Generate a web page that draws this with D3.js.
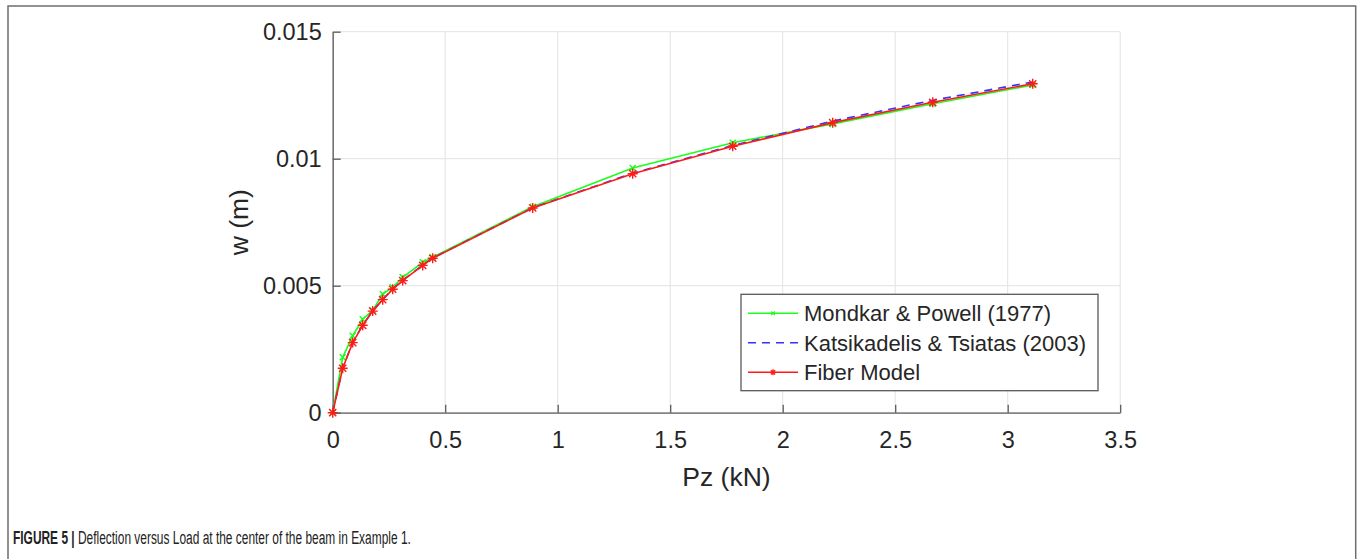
<!DOCTYPE html>
<html>
<head>
<meta charset="utf-8">
<script src="https://cdn.jsdelivr.net/npm/d3@7"></script>
<style>
    body { margin: 0; background: #fff; }
    svg text { font-family: "Liberation Sans", Arial, sans-serif; fill: #262626; }
</style>
</head>
<body>
<svg id="chart" width="1363" height="559"></svg>
<script>
// Load steps (kN)
const loadPz = [0, 0.0444, 0.0889, 0.1333, 0.1778, 0.2222, 0.2667, 0.3111, 0.4, 0.4444,
                0.8889, 1.3333, 1.7778, 2.2222, 2.6667, 3.1111];

// Deflection w (m) for each series
const mondkarW = [0, 0.00218, 0.00303, 0.00368, 0.00403, 0.00467, 0.00494, 0.00533, 0.00592, 0.00612,
                  0.00811, 0.00963, 0.01063, 0.01137, 0.01216, 0.01290];
const katsikadelisW = [0, 0.00176, 0.00277, 0.00345, 0.00401, 0.00446, 0.00487, 0.00521, 0.00581, 0.00609,
                       0.00807, 0.00943, 0.01052, 0.01148, 0.01230, 0.01302];
const fiberW = [0, 0.00175, 0.00276, 0.00344, 0.00400, 0.00445, 0.00486, 0.00520, 0.00580, 0.00608,
                0.00806, 0.00941, 0.01049, 0.01142, 0.01222, 0.01295];

const seriesNames = ["Mondkar & Powell (1977)", "Katsikadelis & Tsiatas (2003)", "Fiber Model"];

// Tick labels
const xTicks = [0, 0.5, 1, 1.5, 2, 2.5, 3, 3.5];
const yTicks = [0, 0.005, 0.01, 0.015];

// Plot area
const plotLeft = 332.7, plotRight = 1120.2, plotTop = 31.7, plotBottom = 412.7;

const svg = d3.select("#chart");

// Figure frame (open at the bottom)
svg.append("path")
    .attr("d", "M8,559 V6 H1355.7 V559")
    .attr("fill", "none")
    .attr("stroke", "#6e6e6e")
    .attr("stroke-width", 1.5);

const xScale = d3.scaleLinear().domain([0, 3.5]).range([plotLeft, plotRight]);
const yScale = d3.scaleLinear().domain([0, 0.015]).range([plotBottom, plotTop]);

// Grid
const grid = svg.append("g").attr("class", "grid");
grid.selectAll(".gx")
    .data(xTicks)
    .enter()
    .append("line")
    .attr("x1", d => xScale(d)).attr("x2", d => xScale(d))
    .attr("y1", plotTop).attr("y2", plotBottom)
    .attr("stroke", "#e3e3e3")
    .attr("stroke-width", 1);
grid.selectAll(".gy")
    .data(yTicks)
    .enter()
    .append("line")
    .attr("x1", plotLeft).attr("x2", plotRight)
    .attr("y1", d => yScale(d)).attr("y2", d => yScale(d))
    .attr("stroke", "#e3e3e3")
    .attr("stroke-width", 1);

// X axis (ticks pointing inward)
const xAxis = svg.append("g")
    .attr("transform", "translate(0," + plotBottom + ")")
    .call(d3.axisBottom(xScale)
        .tickValues(xTicks)
        .tickSizeInner(-8)
        .tickSizeOuter(0)
        .tickPadding(22)
        .tickFormat(d3.format("")));

// Y axis
const yAxis = svg.append("g")
    .attr("transform", "translate(" + plotLeft + ",0)")
    .call(d3.axisLeft(yScale)
        .tickValues(yTicks)
        .tickSizeInner(-8)
        .tickSizeOuter(0)
        .tickPadding(11)
        .tickFormat(d3.format("")));

[xAxis, yAxis].forEach(ax => {
    ax.select(".domain").attr("stroke", "#5c5c5c").attr("stroke-width", 1.3);
    ax.selectAll(".tick line").attr("stroke", "#5c5c5c").attr("stroke-width", 1.3);
    ax.selectAll(".tick text")
        .attr("font-size", 23.5)
        .attr("fill", "#262626")
        .style("font-family", "'Liberation Sans', Arial, sans-serif");
});
xAxis.selectAll(".tick text").attr("dy", "0.55em");

// Axis titles
svg.append("text")
    .attr("x", (plotLeft + plotRight) / 2)
    .attr("y", 486)
    .attr("text-anchor", "middle")
    .attr("font-size", 26.5)
    .text("Pz (kN)");

svg.append("text")
    .attr("transform", "translate(248," + ((plotTop + plotBottom) / 2) + ") rotate(-90)")
    .attr("text-anchor", "middle")
    .attr("font-size", 26.5)
    .text("w (m)");

// Marker shapes
function markerPath(type, r) {
    if (type === "x") {
        return "M" + (-r) + "," + (-r) + "L" + r + "," + r + "M" + (-r) + "," + r + "L" + r + "," + (-r);
    }
    const d = r * 0.72;
    return "M" + (-r) + ",0L" + r + ",0M0," + (-r) + "L0," + r +
           "M" + (-d) + "," + (-d) + "L" + d + "," + d + "M" + (-d) + "," + d + "L" + d + "," + (-d);
}

const series = [
    { name: seriesNames[0], values: mondkarW, color: "#1aff1a", dash: null, marker: "x", size: 3 },
    { name: seriesNames[1], values: katsikadelisW, color: "#3333ff", dash: "8,6", marker: null, size: 0 },
    { name: seriesNames[2], values: fiberW, color: "#ff1a1a", dash: null, marker: "*", size: 5 }
];

const line = d3.line()
    .x(d => xScale(d[0]))
    .y(d => yScale(d[1]));

series.forEach(s => {
    const pts = loadPz.map((p, i) => [p, s.values[i]]);
    svg.append("path")
        .datum(pts)
        .attr("fill", "none")
        .attr("stroke", s.color)
        .attr("stroke-width", 1.6)
        .attr("stroke-dasharray", s.dash)
        .attr("d", line);
    if (s.marker) {
        svg.selectAll(null)
            .data(pts)
            .enter()
            .append("path")
            .attr("transform", d => "translate(" + xScale(d[0]) + "," + yScale(d[1]) + ")")
            .attr("d", markerPath(s.marker, s.size))
            .attr("fill", "none")
            .attr("stroke", s.color)
            .attr("stroke-width", 1.4);
    }
});

// Legend
const legend = svg.append("g").attr("transform", "translate(741,294.3)");
legend.append("rect")
    .attr("width", 357)
    .attr("height", 96.4)
    .attr("fill", "#fff")
    .attr("stroke", "#595959")
    .attr("stroke-width", 1.3);

series.forEach((s, i) => {
    const cy = 19 + i * 29.5;
    legend.append("line")
        .attr("x1", 7).attr("x2", 57)
        .attr("y1", cy).attr("y2", cy)
        .attr("stroke", s.color)
        .attr("stroke-width", 1.6)
        .attr("stroke-dasharray", s.dash);
    if (s.marker) {
        legend.append("path")
            .attr("transform", "translate(32," + cy + ")")
            .attr("d", markerPath(s.marker, s.size * 0.6))
            .attr("fill", "none")
            .attr("stroke", s.color)
            .attr("stroke-width", 1.3);
    }
    legend.append("text")
        .attr("x", 63)
        .attr("y", cy)
        .attr("dy", "0.36em")
        .attr("font-size", 22)
        .attr("fill", "#000")
        .text(s.name);
});

// Caption (condensed look via horizontal scale)
const caption = svg.append("text")
    .attr("transform", "translate(13,544) scale(0.628,1)")
    .attr("font-size", 19);
caption.append("tspan")
    .attr("font-weight", "bold")
    .attr("fill", "#222")
    .text("FIGURE 5 | ");
caption.append("tspan")
    .attr("fill", "#222")
    .text("Deflection versus Load at the center of the beam in Example 1.");
</script>
</body>
</html>
